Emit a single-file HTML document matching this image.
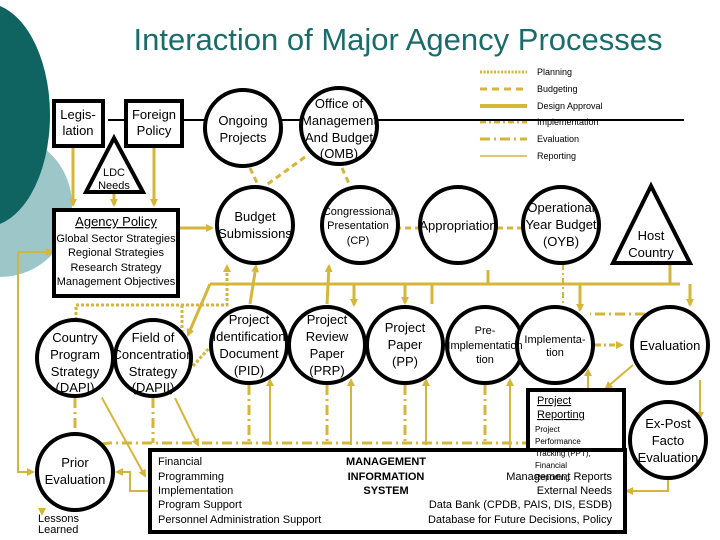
<!DOCTYPE html>
<html><head><style>
html,body{margin:0;padding:0;background:#fff;}
svg{display:block;font-family:"Liberation Sans",sans-serif;}
</style></head><body>
<svg width="720" height="540" viewBox="0 0 720 540" xmlns="http://www.w3.org/2000/svg">
<defs>
<marker id="a" markerWidth="8" markerHeight="8" refX="6" refY="4" orient="auto" markerUnits="userSpaceOnUse"><path d="M0,0 L8,4 L0,8 z" fill="#d6b63a"/></marker>
</defs>
<circle cx="0" cy="205" r="72" fill="#9cc6c8"/>
<ellipse cx="-15" cy="115" rx="65" ry="112" fill="#0f6462"/>
<text x="398" y="50" font-size="31" fill="#1c6b6b" text-anchor="middle">Interaction of Major Agency Processes</text>

<g stroke="#d6b63a" fill="none">
<line x1="480" y1="72" x2="527" y2="72" stroke-width="3" stroke-dasharray="2,1.5"/>
<line x1="480" y1="89" x2="527" y2="89" stroke-width="3" stroke-dasharray="7,5"/>
<line x1="480" y1="106" x2="527" y2="106" stroke-width="4"/>
<line x1="480" y1="122" x2="527" y2="122" stroke-width="3" stroke-dasharray="6,3,2,3"/>
<line x1="480" y1="139" x2="527" y2="139" stroke-width="3" stroke-dasharray="10,4,2,4"/>
<line x1="480" y1="156" x2="527" y2="156" stroke-width="1.5"/>
</g>
<g font-size="9" fill="#000">
<text x="537" y="75">Planning</text><text x="537" y="92">Budgeting</text><text x="537" y="109">Design Approval</text>
<text x="537" y="125">Implementation</text><text x="537" y="142">Evaluation</text><text x="537" y="159">Reporting</text>
</g>
<line x1="108" y1="120" x2="684" y2="120" stroke="#000" stroke-width="2"/>

<!-- connectors -->
<g stroke="#d6b63a" fill="none" stroke-width="3">
<line x1="73" y1="146" x2="73" y2="205" marker-end="url(#a)"/>
<line x1="154" y1="146" x2="154" y2="205" marker-end="url(#a)"/>
<line x1="114" y1="192" x2="114" y2="205" marker-end="url(#a)"/>
<line x1="180" y1="228" x2="212" y2="228" marker-end="url(#a)"/>
<line x1="250" y1="168" x2="258" y2="185" stroke-dasharray="6,4"/>
<line x1="305" y1="157" x2="265" y2="186" stroke-dasharray="6,4"/>
<line x1="342" y1="168" x2="350" y2="186" stroke-dasharray="6,4"/>
<line x1="395" y1="228" x2="420" y2="228" stroke-dasharray="6,4"/>
<line x1="497" y1="228" x2="522" y2="228" stroke-dasharray="6,4"/>
<line x1="210" y1="284" x2="680" y2="284"/>
<line x1="210" y1="284" x2="188" y2="335" marker-end="url(#a)"/>
<line x1="250" y1="304" x2="256" y2="266" marker-end="url(#a)"/>
<line x1="327" y1="304" x2="329" y2="266" marker-end="url(#a)"/>
<line x1="354" y1="284" x2="354" y2="305" marker-end="url(#a)"/>
<line x1="405" y1="284" x2="405" y2="303" marker-end="url(#a)"/>
<line x1="580" y1="284" x2="580" y2="310" marker-end="url(#a)"/>
<line x1="670" y1="264" x2="670" y2="284"/>
<line x1="690" y1="284" x2="690" y2="305" marker-end="url(#a)"/>
<line x1="432" y1="304" x2="432" y2="284"/>
<line x1="488" y1="284" x2="488" y2="270"/>
</g>
<g stroke="#d6b63a" fill="none" stroke-width="2">
<polyline points="76,320 76,305 227,305 227,266" stroke-dasharray="3,2" stroke-width="3" marker-end="url(#a)"/>
<polyline points="182,305 182,340" stroke-dasharray="3,2" stroke-width="3"/>
<line x1="193" y1="366" x2="210" y2="347" stroke-dasharray="3,2" stroke-width="3"/>
<line x1="563" y1="264" x2="563" y2="305" stroke-dasharray="6,3,2,3"/>
<polyline points="665,314 590,314" stroke-dasharray="10,4,2,4" stroke-width="3"/>
<line x1="595" y1="345" x2="622" y2="345" stroke-dasharray="6,3,2,3" stroke-width="3" marker-end="url(#a)"/>
<line x1="75" y1="398" x2="75" y2="432" stroke-dasharray="10,4,2,4" stroke-width="3"/>
<polyline points="102,444 110,443 620,443" stroke-dasharray="10,4,2,4" stroke-width="3"/>
<line x1="153" y1="398" x2="153" y2="443" stroke-dasharray="10,4,2,4" stroke-width="3"/>
<line x1="249" y1="385" x2="249" y2="443" stroke-dasharray="10,4,2,4" stroke-width="3"/>
<line x1="327" y1="385" x2="327" y2="443" stroke-dasharray="10,4,2,4" stroke-width="3"/>
<line x1="405" y1="385" x2="405" y2="443" stroke-dasharray="10,4,2,4" stroke-width="3"/>
<line x1="485" y1="385" x2="485" y2="443" stroke-dasharray="10,4,2,4" stroke-width="3"/>
<line x1="270" y1="445" x2="270" y2="380" marker-end="url(#a)"/>
<line x1="351" y1="445" x2="351" y2="380" marker-end="url(#a)"/>
<line x1="426" y1="445" x2="426" y2="380" marker-end="url(#a)"/>
<line x1="510" y1="450" x2="510" y2="380" marker-end="url(#a)"/>
<line x1="588" y1="388" x2="588" y2="370" marker-end="url(#a)"/>
<line x1="633" y1="365" x2="606" y2="388" marker-end="url(#a)"/>
<line x1="700" y1="380" x2="700" y2="418" marker-end="url(#a)"/>
<polyline points="668,480 668,491 627,491" marker-end="url(#a)"/>
<line x1="102" y1="398" x2="145" y2="476" marker-end="url(#a)"/>
<line x1="103" y1="398" x2="102" y2="398"/>
<line x1="175" y1="398" x2="198" y2="445" marker-end="url(#a)"/>
<polyline points="148,491 130,491 130,472 117,472" marker-end="url(#a)"/>
<polyline points="18,260 18,472 33,472" marker-end="url(#a)"/>
<polyline points="18,260 18,252 52,252" marker-end="url(#a)"/>
<line x1="42" y1="512" x2="42" y2="514" marker-end="url(#a)"/>
</g>

<!-- shapes -->
<g fill="#fff" stroke="#000" stroke-width="4">
<rect x="54" y="101" width="49" height="45"/>
<rect x="126" y="101" width="56" height="45"/>
<polygon points="114,138 86,192 143,192"/>
<rect x="54" y="210" width="124" height="86"/>
<circle cx="243" cy="128" r="38"/>
<circle cx="339" cy="126" r="38"/>
<circle cx="255" cy="225" r="38"/>
<circle cx="360" cy="225" r="38"/>
<circle cx="458" cy="225" r="38"/>
<circle cx="561" cy="225" r="38"/>
<polygon points="651,186 613,263 690,263"/>
<circle cx="75" cy="358" r="38"/>
<circle cx="153" cy="358" r="38"/>
<circle cx="249" cy="345" r="38"/>
<circle cx="327" cy="345" r="38"/>
<circle cx="405" cy="345" r="38"/>
<circle cx="485" cy="345" r="38"/>
<circle cx="555" cy="345" r="38"/>
<circle cx="670" cy="345" r="38"/>
<circle cx="75" cy="472" r="38"/>
<circle cx="668" cy="440" r="38"/>
<rect x="528" y="390" width="96" height="62"/>
<rect x="150" y="450" width="475" height="82"/>
</g>

<g font-size="13" fill="#000" text-anchor="middle">
<text x="78" y="119">Legis-</text><text x="78" y="135">lation</text>
<text x="154" y="119">Foreign</text><text x="154" y="135">Policy</text>
<text x="114" y="176" font-size="11">LDC</text><text x="114" y="189" font-size="11">Needs</text>
<text x="116" y="226" text-decoration="underline">Agency Policy</text>
<g font-size="11"><text x="116" y="242">Global Sector Strategies</text><text x="116" y="256">Regional Strategies</text><text x="116" y="271">Research Strategy</text><text x="116" y="285">Management Objectives</text></g>
<text x="243" y="125">Ongoing</text><text x="243" y="142">Projects</text>
<text x="339" y="108">Office of</text><text x="339" y="125">Management</text><text x="339" y="142">And Budget</text><text x="339" y="158">(OMB)</text>
<text x="255" y="221">Budget</text><text x="255" y="238">Submissions</text>
<g font-size="11"><text x="358" y="215">Congressional</text><text x="358" y="229">Presentation</text><text x="358" y="244">(CP)</text></g>
<text x="458" y="230">Appropriation</text>
<text x="561" y="212">Operational</text><text x="561" y="229">Year Budget</text><text x="561" y="246">(OYB)</text>
<text x="651" y="240">Host</text><text x="651" y="257">Country</text>
<text x="75" y="342">Country</text><text x="75" y="359">Program</text><text x="75" y="376">Strategy</text><text x="75" y="392">(DAPI)</text>
<text x="153" y="342">Field of</text><text x="153" y="359">Concentration</text><text x="153" y="376">Strategy</text><text x="153" y="392">(DAPII)</text>
<text x="249" y="324">Project</text><text x="249" y="341">Identification</text><text x="249" y="358">Document</text><text x="249" y="375">(PID)</text>
<text x="327" y="324">Project</text><text x="327" y="341">Review</text><text x="327" y="358">Paper</text><text x="327" y="375">(PRP)</text>
<text x="405" y="332">Project</text><text x="405" y="349">Paper</text><text x="405" y="366">(PP)</text>
<g font-size="11"><text x="485" y="334">Pre-</text><text x="485" y="349">Implementation</text><text x="485" y="363">tion</text>
<text x="555" y="343">Implementa-</text><text x="555" y="356">tion</text></g>
<text x="670" y="350">Evaluation</text>
<text x="75" y="467">Prior</text><text x="75" y="484">Evaluation</text>
<text x="668" y="428">Ex-Post</text><text x="668" y="445">Facto</text><text x="668" y="462">Evaluation</text>
</g>
<g font-size="11" fill="#000">
<text x="537" y="404" text-decoration="underline">Project</text><text x="537" y="418" text-decoration="underline">Reporting</text>
<g font-size="8"><text x="535" y="432">Project</text><text x="535" y="444">Performance</text><text x="535" y="456">Tracking (PPT),</text><text x="535" y="468">Financial</text><text x="535" y="480">Reporting</text></g>
<text x="38" y="522">Lessons</text><text x="38" y="533">Learned</text>
<text x="158" y="465">Financial</text><text x="158" y="480">Programming</text><text x="158" y="494">Implementation</text><text x="158" y="508">Program Support</text><text x="158" y="523">Personnel Administration Support</text>
<g font-weight="bold" text-anchor="middle"><text x="386" y="465">MANAGEMENT</text><text x="386" y="480">INFORMATION</text><text x="386" y="494">SYSTEM</text></g>
<g text-anchor="end"><text x="612" y="480">Management Reports</text><text x="612" y="494">External Needs</text><text x="612" y="508">Data Bank (CPDB, PAIS, DIS, ESDB)</text><text x="612" y="523">Database for Future Decisions, Policy</text></g>
</g>
</svg>
</body></html>
